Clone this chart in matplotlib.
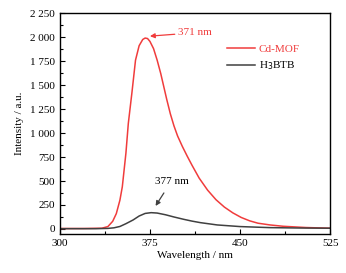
import matplotlib
matplotlib.use("Agg")
import matplotlib.pyplot as plt
from matplotlib.ticker import MultipleLocator, FuncFormatter

# emission spectra (wavelength nm, intensity a.u.)
wl_mof = [300, 320, 335, 340, 344, 347, 350, 352, 355, 357, 360, 363, 366, 369,
          371, 373, 375, 378, 381, 384, 389, 392, 395, 398, 402, 406, 410, 416,
          423, 430, 437, 444, 451, 458, 465, 475, 486, 505, 525]
int_mof = [5, 5, 8, 25, 80, 160, 300, 440, 790, 1100, 1420, 1760, 1910, 1975,
           1990, 1985, 1955, 1880, 1760, 1620, 1350, 1200, 1075, 970, 860, 760,
           665, 530, 405, 305, 228, 168, 120, 85, 60, 42, 28, 15, 8]

wl_btb = [300, 330, 340, 345, 350, 355, 361, 366, 371, 376, 381, 388, 395,
          403, 410, 417, 431, 450, 475, 500, 525]
int_btb = [3, 3, 6, 12, 26, 55, 94, 135, 162, 170, 166, 148, 125, 101, 82,
           66, 42, 25, 14, 10, 8]

red = '#f03c3c'
dark = '#404040'

plt.rcParams['font.family'] = ['Liberation Serif', 'DejaVu Serif']
plt.rcParams['font.size'] = 8

fig = plt.figure(figsize=(3.46, 2.73), dpi=100)
ax = fig.add_axes([0.173, 0.143, 0.781, 0.809])

ax.plot(wl_mof, int_mof, color=red, lw=1.1, label='Cd-MOF')
ax.plot(wl_btb, int_btb, color=dark, lw=1.1, label='H$_3$BTB')

ax.set_xlim(300, 525)
ax.set_ylim(-52, 2250)
ax.xaxis.set_major_locator(MultipleLocator(75))
ax.xaxis.set_minor_locator(MultipleLocator(37.5))
ax.yaxis.set_major_locator(MultipleLocator(250))
ax.yaxis.set_minor_locator(MultipleLocator(125))
ax.yaxis.set_major_formatter(FuncFormatter(lambda v, p: f'{int(v):,}'.replace(',', ' ')))
ax.tick_params(which='both', direction='in', top=False, right=False)
ax.tick_params(which='major', length=3.5, width=0.8)
ax.tick_params(which='minor', length=2, width=0.8)
for s in ax.spines.values():
    s.set_linewidth(1.0)

ax.set_xlabel('Wavelength / nm', labelpad=2)
ax.set_ylabel('Intensity / a.u.', labelpad=4)

leg = ax.legend(loc='upper left', bbox_to_anchor=(0.58, 0.905), frameon=False,
                handlelength=2.6, handletextpad=0.3, labelspacing=0.5,
                labelcolor=[red, 'black'])

ax.annotate('371 nm', xy=(375, 2010), xytext=(398, 2045), color=red,
            va='center', ha='left',
            arrowprops=dict(arrowstyle='-|>', color=red, lw=0.9,
                            mutation_scale=7, shrinkA=0, shrinkB=0))
ax.annotate('377 nm', xy=(379.7, 240), xytext=(393, 500), color='black',
            va='center', ha='center',
            arrowprops=dict(arrowstyle='-|>', color=dark, lw=0.9,
                            mutation_scale=7, shrinkA=4, shrinkB=0))

fig.savefig('out.png', dpi=100)
